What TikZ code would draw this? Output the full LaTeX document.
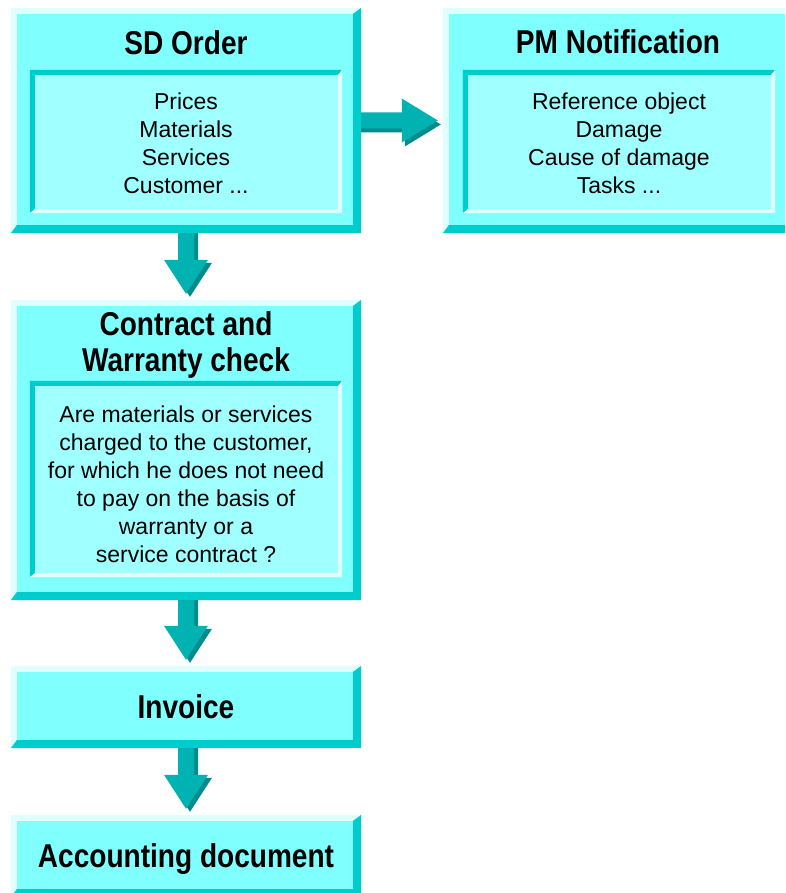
\documentclass[tikz,border=0pt]{standalone}
\usepackage{fontspec}
\setmainfont{Liberation Sans}
\newfontfamily\titlefamily[FakeStretch=0.85]{Liberation Sans}
\usetikzlibrary{calc}
\definecolor{face}{RGB}{128,255,255}
\definecolor{innerface}{RGB}{160,255,255}
\definecolor{bvlight}{RGB}{224,255,255}
\definecolor{bvdark}{RGB}{0,204,204}
\definecolor{arrmain}{RGB}{0,178,178}
\definecolor{arrshadow}{RGB}{0,140,140}
\tikzset{
  outerbox/.style={rectangle, fill=face, inner sep=0pt, minimum width=350pt},
  innerbox/.style={rectangle, fill=innerface, inner sep=0pt, minimum width=312pt},
  titletxt/.style={font={\titlefamily\bfseries\fontsize{33}{36}\selectfont}, align=center, inner sep=0pt},
  bodytxt/.style={font={\fontsize{23}{28}\selectfont}, align=center, inner sep=0pt},
}
% #1 node, #2 top-left colour, #3 bottom-right colour, #4 top-left width, #5 bottom-right width
\newcommand\bevelframe[5]{%
  \fill[#2] let \p1=(#1.north west), \p2=(#1.south east) in
    (\x1,\y1) -- (\x2,\y1) -- (\x2-#5,\y1-#4) -- (\x1+#4,\y1-#4) -- (\x1+#4,\y2+#5) -- (\x1,\y2) -- cycle;
  \fill[#3] let \p1=(#1.north west), \p2=(#1.south east) in
    (\x2,\y1) -- (\x2,\y2) -- (\x1,\y2) -- (\x1+#4,\y2+#5) -- (\x2-#5,\y2+#5) -- (\x2-#5,\y1-#4) -- cycle;
}
% block arrow downward from node #1 to node #2
\newcommand\blockdown[2]{%
  \fill[arrshadow] let \p1=(#1.south), \p2=(#2.north) in
    (\x1-4pt,\y1) -- (\x1-4pt,\y2+37pt) -- (\x1-18pt,\y2+37pt) -- (\x1+4pt,\y2+3pt)
    -- (\x1+26pt,\y2+37pt) -- (\x1+12pt,\y2+37pt) -- (\x1+12pt,\y1) -- cycle;
  \fill[arrmain] let \p1=(#1.south), \p2=(#2.north) in
    (\x1-8pt,\y1) -- (\x1-8pt,\y2+40pt) -- (\x1-22pt,\y2+40pt) -- (\x1,\y2+6pt)
    -- (\x1+22pt,\y2+40pt) -- (\x1+8pt,\y2+40pt) -- (\x1+8pt,\y1) -- cycle;
}
% block arrow rightward from node #1 to node #2
\newcommand\blockright[2]{%
  \fill[arrshadow] let \p1=(#1.east), \p2=(#2.west) in
    (\x1,\y1+4pt) -- (\x2-38pt,\y1+4pt) -- (\x2-38pt,\y1+18pt) -- (\x2-2pt,\y1-4pt)
    -- (\x2-38pt,\y1-26pt) -- (\x2-38pt,\y1-12pt) -- (\x1,\y1-12pt) -- cycle;
  \fill[arrmain] let \p1=(#1.east), \p2=(#2.west) in
    (\x1,\y1+8pt) -- (\x2-41pt,\y1+8pt) -- (\x2-41pt,\y1+22pt) -- (\x2-5pt,\y1)
    -- (\x2-41pt,\y1-22pt) -- (\x2-41pt,\y1-8pt) -- (\x1,\y1-8pt) -- cycle;
}
\begin{document}
\begin{tikzpicture}[x=1pt,y=-1pt]
\useasboundingbox (0,0) rectangle (785,893);
\clip (0,0) rectangle (785,893);
% outer boxes
\node[outerbox, minimum height=225pt] (sd)  at (186,120.5) {};
\node[outerbox, minimum width=370pt, minimum height=225pt] (pm)  at (628,120.5) {};
\node[outerbox, minimum height=300pt] (cw)  at (186,450) {};
\node[outerbox, minimum height=82pt]  (inv) at (186,707) {};
\node[outerbox, minimum height=82pt]  (acc) at (186,856) {};
\bevelframe{sd}{bvlight}{bvdark}{6pt}{8pt}
\bevelframe{pm}{bvlight}{bvdark}{6pt}{8pt}
\bevelframe{cw}{bvlight}{bvdark}{6pt}{8pt}
\bevelframe{inv}{bvlight}{bvdark}{6pt}{8pt}
\bevelframe{acc}{bvlight}{bvdark}{6pt}{8pt}
% inner boxes
\node[innerbox, minimum height=143pt] (sdin) at (186,141.5) {};
\node[innerbox, minimum height=143pt] (pmin) at (619,141.5) {};
\node[innerbox, minimum height=196pt] (cwin) at (186,479) {};
\bevelframe{sdin}{bvdark}{bvlight}{5pt}{4pt}
\bevelframe{pmin}{bvdark}{bvlight}{5pt}{4pt}
\bevelframe{cwin}{bvdark}{bvlight}{5pt}{4pt}
% texts
\node[titletxt, anchor=base] (sdt) at (186,55) {SD Order};
\node[bodytxt] (sdb) at (186,143) {Prices\\Materials\\Services\\Customer ...};
\node[titletxt, anchor=base] (pmt) at (618,54) {PM Notification};
\node[bodytxt] (pmb) at (619,143) {Reference object\\Damage\\Cause of damage\\Tasks ...};
\node[titletxt] (cwt) at (186,345) {Contract and\\Warranty check};
\node[bodytxt] (cwb) at (186,484.5) {Are materials or services\\charged to the customer,\\for which he does not need\\to pay on the basis of\\warranty or a\\service contract ?};
\node[titletxt, anchor=base] (invt) at (186,718) {Invoice};
\node[titletxt, anchor=base] (acct) at (186,867) {Accounting document};
% arrows
\blockright{sd}{pm}
\blockdown{sd}{cw}
\blockdown{cw}{inv}
\blockdown{inv}{acc}
\end{tikzpicture}
\end{document}
